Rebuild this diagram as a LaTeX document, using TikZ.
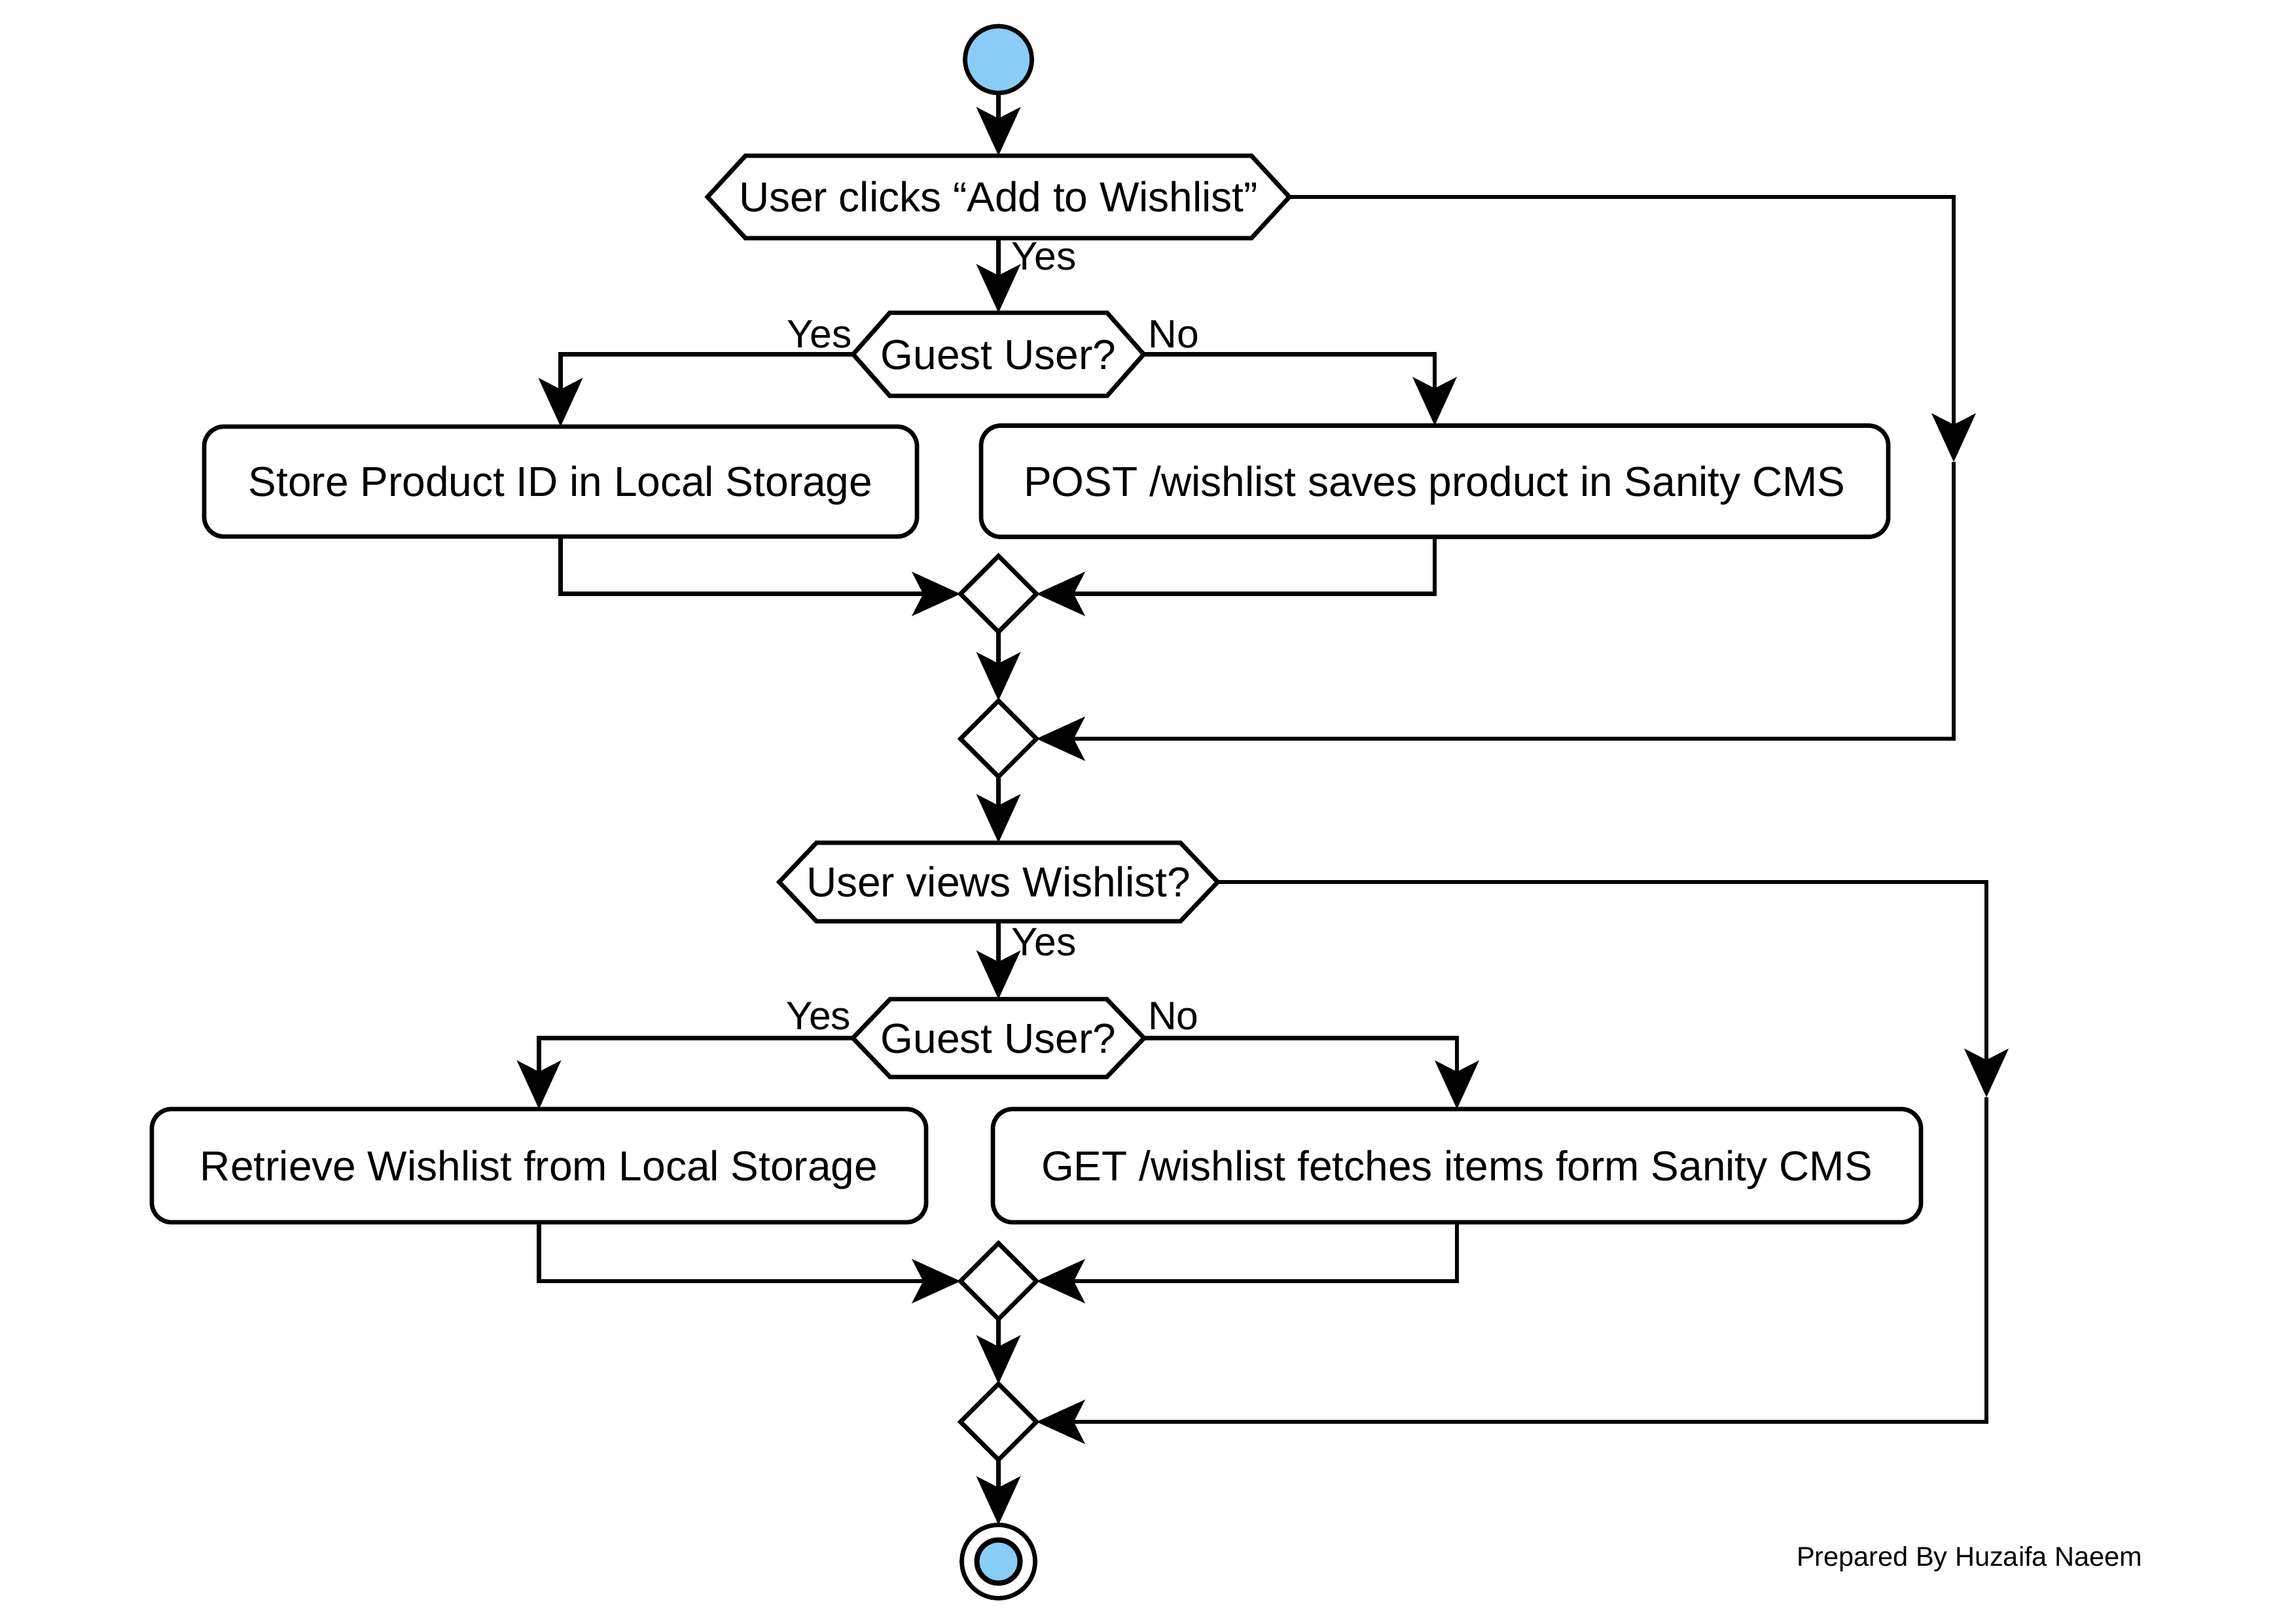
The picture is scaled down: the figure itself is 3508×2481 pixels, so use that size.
\documentclass[tikz,border=0pt]{standalone}
\usepackage{fontspec}
\setmainfont{Liberation Sans}
\usetikzlibrary{arrows.meta,calc,shapes.geometric}
\definecolor{startblue}{RGB}{137,205,246}
\newcommand\drawhex[2]{\draw[shapeline] (#1.west) -- ($(#1.north west)+(#2,0)$) -- ($(#1.north east)+(-#2,0)$) -- (#1.east) -- ($(#1.south east)+(-#2,0)$) -- ($(#1.south west)+(#2,0)$) -- cycle;}
\begin{document}
\begin{tikzpicture}[x=0.2pt,y=-0.2pt,
  shapeline/.style={line width=1.35pt, line join=miter},
  conn/.style={line width=1.35pt, -{Stealth[length=14.8pt,width=13.4pt,inset=3.4pt]}},
  hextext/.style={inner sep=0pt, outer sep=0pt, font=\fontsize{12.8pt}{15pt}\selectfont, text height=9.1pt, text depth=0pt},
  actbox/.style={draw, line width=1.35pt, rounded corners=6pt, inner sep=0pt, outer sep=0pt, fill=white,
    font=\fontsize{12.8pt}{15pt}\selectfont, text height=9.1pt, text depth=0pt},
  merge/.style={diamond, draw, line width=1.35pt, minimum width=23.2pt, minimum height=23.2pt, inner sep=0pt, outer sep=0pt, aspect=1, fill=white},
  lbl/.style={inner sep=0pt, outer sep=0pt, font=\fontsize{12.1pt}{14pt}\selectfont},
  startnode/.style={circle, draw, line width=1.35pt, fill=startblue, minimum size=20.4pt, inner sep=0pt, outer sep=0pt},
  endnode/.style={circle, draw, line width=1.35pt, fill=white, minimum size=22.4pt, inner sep=0pt, outer sep=0pt},
]
\useasboundingbox[fill=white] (0,0) rectangle (3508,2481);

% nodes
\node[startnode] (start) at (1525.5,91) {};
\node[hextext, minimum width=177.8pt, minimum height=25.2pt] (h1) at (1525.5,301) {User clicks “Add to Wishlist”};
\drawhex{h1}{58}
\node[hextext, minimum width=88.8pt, minimum height=25.4pt] (g1) at (1525.5,541.5) {Guest User?};
\drawhex{g1}{56}
\node[actbox, minimum width=217.8pt, minimum height=33.6pt] (store) at (856.5,736) {Store Product ID in Local Storage};
\node[actbox, minimum width=277.2pt, minimum height=34pt] (post) at (2192,735.5) {POST /wishlist saves product in Sanity CMS};
\node[merge] (d1) at (1525.5,907.7) {};
\node[merge] (d2) at (1525.5,1129) {};
\node[hextext, minimum width=134pt, minimum height=24pt] (h3) at (1525.5,1348) {User views Wishlist?};
\drawhex{h3}{57}
\node[hextext, minimum width=89pt, minimum height=23.8pt] (g2) at (1525.5,1586.5) {Guest User?};
\drawhex{g2}{57}
\node[actbox, minimum width=236.6pt, minimum height=34.6pt] (retr) at (823.5,1781.5) {Retrieve Wishlist from Local Storage};
\node[actbox, minimum width=283.6pt, minimum height=34.6pt] (get) at (2226,1781.5) {GET /wishlist fetches items form Sanity CMS};
\node[merge] (d3) at (1525.5,1958) {};
\node[merge] (d4) at (1525.5,2173) {};
\node[endnode] (end) at (1525.5,2386.5) {};
\draw[line width=1.6pt, fill=startblue] (end.center) circle[radius=6.6pt];

\coordinate (r1) at (2985,706);
\coordinate (r2) at (3035,1677);

% labels
\node[lbl, anchor=base west] (yes1) at ($(h1.south)+(20,48)$) {Yes};
\node[lbl, anchor=base east] (yes2) at ($(g1.west)+(-2,-10)$) {Yes};
\node[lbl, anchor=base west] (no1) at ($(g1.east)+(7,-10)$) {No};
\node[lbl, anchor=base west] (yes3) at ($(h3.south)+(20,52)$) {Yes};
\node[lbl, anchor=base east] (yes4) at ($(g2.west)+(-3,-13)$) {Yes};
\node[lbl, anchor=base west] (no2) at ($(g2.east)+(6,-13)$) {No};
\node[inner sep=0pt, anchor=base west, font=\fontsize{8.3pt}{10pt}\selectfont] (prep) at (2744,2393) {Prepared By Huzaifa Naeem};

% connectors
\draw[conn] (start.south) -- (h1.north);
\draw[conn] (h1.south) -- (g1.north);
\draw[conn] (g1.west) -| (store.north);
\draw[conn] (g1.east) -| (post.north);
\draw[conn] (store.south) |- (d1.west);
\draw[conn] (post.south) |- (d1.east);
\draw[conn] (d1.south) -- (d2.north);
\draw[conn] (h1.east) -| (r1);
\draw[conn] (r1) |- (d2.east);
\draw[conn] (d2.south) -- (h3.north);
\draw[conn] (h3.south) -- (g2.north);
\draw[conn] (g2.west) -| (retr.north);
\draw[conn] (g2.east) -| (get.north);
\draw[conn] (retr.south) |- (d3.west);
\draw[conn] (get.south) |- (d3.east);
\draw[conn] (d3.south) -- (d4.north);
\draw[conn] (h3.east) -| (r2);
\draw[conn] (r2) |- (d4.east);
\draw[conn] (d4.south) -- (end.north);
\end{tikzpicture}
\end{document}
